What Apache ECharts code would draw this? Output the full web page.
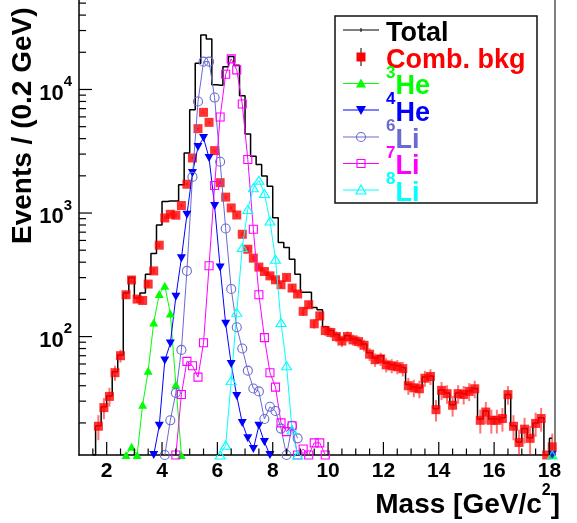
<!DOCTYPE html>
<html>
<head>
<meta charset="utf-8">
<script src="https://cdn.jsdelivr.net/npm/echarts@6/dist/echarts.min.js"></script>
<style>
  html, body { margin: 0; padding: 0; background: #fff; }
  #chart { width: 577px; height: 523px; }
</style>
</head>
<body>
<div id="chart"></div>
<script>
// ---- axis ranges ----
const MASS_MIN = 1.0, MASS_MAX = 18.2;
const COUNT_MIN = 11, COUNT_MAX = 53000;

// ---- tick positions ----
const xMajorTicks = [2, 4, 6, 8, 10, 12, 14, 16, 18];
const xMinorTicks = [1.5, 2.5, 3, 3.5, 4.5, 5, 5.5, 6.5, 7, 7.5, 8.5, 9, 9.5, 10.5, 11, 11.5,
                     12.5, 13, 13.5, 14.5, 15, 15.5, 16.5, 17, 17.5];
const yMajorTicks = [100, 1000, 10000];
const yMinorTicks = [20, 30, 40, 50, 60, 70, 80, 90,
                     200, 300, 400, 500, 600, 700, 800, 900,
                     2000, 3000, 4000, 5000, 6000, 7000, 8000, 9000,
                     20000, 30000, 40000, 50000];

// ---- Total (histogram, 0.2 GeV bins) ----
const totalMass = [1.5, 1.7, 1.9, 2.1, 2.3, 2.5, 2.7, 2.9, 3.1, 3.3, 3.5, 3.7, 3.9, 4.1, 4.3, 4.5, 4.7, 4.9,
  5.1, 5.3, 5.5, 5.7, 5.9, 6.1, 6.3, 6.5, 6.7, 6.9, 7.1, 7.3, 7.5, 7.7, 7.9, 8.1, 8.3, 8.5, 8.7, 8.9,
  9.1, 9.3, 9.5, 9.7, 9.9, 10.1, 10.3, 10.5, 10.7, 10.9, 11.1, 11.3, 11.5, 11.7, 11.9, 12.1, 12.3, 12.5,
  12.7, 12.9, 13.1, 13.3, 13.5, 13.7, 13.9, 14.1, 14.3, 14.5, 14.7, 14.9, 15.1, 15.3, 15.5, 15.7, 15.9,
  16.1, 16.3, 16.5, 16.7, 16.9, 17.1, 17.3, 17.5, 17.7, 17.9, 18.1];
const totalCounts = [11, 19, 27, 33, 52, 71, 225, 300, 205, 225, 320, 470, 800, 1240, 1250, 1250, 1690, 3060,
  6850, 16300, 27600, 25600, 10900, 10800, 15300, 18500, 15700, 8900, 4360, 2880, 2470, 1990, 1650, 916, 576, 525, 423, 320,
  228, 228, 172, 165, 120, 112, 104, 95, 102, 96, 93, 87, 74, 67, 70, 61, 59, 58,
  56, 41, 39, 38.5, 47, 48, 26, 37, 35, 28, 35, 34.5, 36.5, 38, 21.5, 25, 21.5,
  21.5, 22, 34, 19, 14, 18, 15.2, 20, 22, 11, 15];

// ---- Combinatorial background (points with errors) ----
const bkgMass = [1.7, 1.9, 2.1, 2.3, 2.5, 2.7, 2.9, 3.1, 3.3, 3.5, 3.7, 3.9, 4.1, 4.3, 4.5, 4.7, 4.9,
  5.1, 5.3, 5.5, 5.7, 5.9, 6.1, 6.3, 6.5, 6.7, 6.9, 7.1, 7.3, 7.5, 7.7, 7.9, 8.1, 8.3, 8.5, 8.7, 8.9,
  9.1, 9.3, 9.5, 9.7, 9.9, 10.1, 10.3, 10.5, 10.7, 10.9, 11.1, 11.3, 11.5, 11.7, 11.9, 12.1, 12.3, 12.5,
  12.7, 12.9, 13.1, 13.3, 13.5, 13.7, 13.9, 14.1, 14.3, 14.5, 14.7, 14.9, 15.1, 15.3, 15.5, 15.7, 15.9,
  16.1, 16.3, 16.5, 16.7, 16.9, 17.1, 17.3, 17.5, 17.7, 17.9, 18.1];
const bkgCounts = [18.8, 26.6, 32.8, 51, 70, 218, 287, 201, 196, 266, 340, 549, 912, 977, 960, 1150, 1710,
  2790, 4820, 6530, 5420, 3200, 1760, 1345, 1100, 964, 673, 509, 431, 365, 336, 310, 288, 263, 301, 247, 221,
  160, 181, 127, 147, 112, 108, 100, 92, 100, 94, 91, 85, 72, 65, 66, 59, 58, 57,
  55, 40, 38.5, 37.8, 46, 47.5, 25.6, 36.7, 34.5, 27.8, 34.5, 34, 36, 37.8, 21, 24.5, 21,
  21, 21.7, 33.9, 18.8, 13.9, 17.8, 15, 19.8, 21.7, 11, 12.8];
const bkgErrors = [4.3, 5.2, 5.7, 7.1, 8.4, 15, 17, 14, 14, 16, 18, 23, 30, 31, 31, 34, 41,
  53, 69, 81, 74, 57, 42, 37, 33, 31, 26, 23, 21, 19, 18, 18, 17, 16, 17, 16, 15,
  13, 13, 11, 12, 11, 10, 10, 9.6, 10, 9.7, 9.5, 9.2, 8.5, 8.1, 8.1, 7.7, 7.6, 7.5,
  7.4, 6.3, 6.2, 6.1, 6.8, 6.9, 5.1, 6.1, 5.9, 5.3, 5.9, 5.8, 6, 6.1, 4.6, 5, 4.6,
  4.6, 4.7, 5.8, 4.3, 3.7, 4.2, 3.9, 4.4, 4.7, 0, 3.6];

// ---- isotope components ----
const he3Mass = [2.7, 2.9, 3.1, 3.3, 3.5, 3.7, 3.9, 4.1, 4.3, 4.5, 4.7];
const he3Counts = [11, 12.8, 11, 28, 53, 130, 221, 258, 154, 41, 11];

const he4Mass = [3.7, 3.9, 4.1, 4.3, 4.5, 4.7, 4.9, 5.1, 5.3, 5.5, 5.7, 5.9, 6.1, 6.3, 6.5, 6.7, 6.9,
  7.1, 7.3, 7.5, 7.7, 7.9];
const he4Counts = [11, 19, 64, 88, 210, 431, 970, 2110, 3430, 4050, 2790, 1140, 362, 127, 60, 33, 20,
  15, 12.3, 19, 14, 11];

const li6Mass = [4.1, 4.3, 4.5, 4.7, 4.9, 5.1, 5.3, 5.5, 5.7, 5.9, 6.1, 6.3, 6.5, 6.7, 6.9, 7.1, 7.3,
  7.5, 7.7, 7.9, 8.1, 8.3, 8.5, 8.7, 8.9];
const li6Counts = [11, 21, 35, 78, 340, 1960, 8000, 16800, 16800, 8600, 2600, 750, 243, 119, 80, 53, 38,
  36, 21.5, 27, 25, 18, 11, 19, 15];

const li7Mass = [4.5, 4.7, 4.9, 5.1, 5.3, 5.5, 5.7, 5.9, 6.1, 6.3, 6.5, 6.7, 6.9, 7.1, 7.3, 7.5, 7.7,
  7.9, 8.1, 8.3, 8.5, 8.7, 8.9, 9.1, 9.3, 9.5, 9.7, 9.9];
const li7Counts = [11, 34, 63, 58, 47, 89, 374, 1670, 5980, 13300, 17700, 14400, 7620, 2710, 740, 218, 98,
  51, 39, 20, 17, 19, 11, 12.3, 11, 13.8, 13.8, 11];

const li8Mass = [6.1, 6.3, 6.5, 6.7, 6.9, 7.1, 7.3, 7.5, 7.7, 7.9, 8.1, 8.3, 8.5, 8.7, 8.9];
const li8Counts = [11, 13.2, 44, 157, 525, 1070, 1600, 1840, 1440, 861, 423, 130, 58, 17.5, 11];

// last-bin entries sitting on the lower edge
const lastBinMass = [18.1];
const lastBinCounts = [11];

// ---- styling ----
const FONT = '"Liberation Sans", Arial, Helvetica, sans-serif';
const C = {
  total: '#000000', bkg: '#ff0000', bkgErr: 'rgba(255,0,0,0.55)',
  he3: '#00ff00', he4: '#0000ff', li6: '#6a6ad2', li7: '#ff00ff', li8: '#00ffff'
};

const pairs = (xs, ys) => xs.map((x, i) => [x, ys[i]]);

// tick marks drawn inside the frame
const tickData = [];
xMajorTicks.forEach(v => tickData.push([v, COUNT_MIN, 0, 13]));
xMinorTicks.forEach(v => tickData.push([v, COUNT_MIN, 0, 6.5]));
yMajorTicks.forEach(v => tickData.push([MASS_MIN, v, 1, 13]));
yMinorTicks.forEach(v => tickData.push([MASS_MIN, v, 1, 7]));

function renderTick(params, api) {
  const p = api.coord([api.value(0), api.value(1)]);
  const len = api.value(3);
  const onX = api.value(2) === 0;
  return {
    type: 'line',
    shape: onX ? { x1: p[0], y1: p[1], x2: p[0], y2: p[1] - len }
               : { x1: p[0], y1: p[1], x2: p[0] + len, y2: p[1] },
    style: { stroke: '#000', lineWidth: 1.2 }
  };
}

const errData = bkgMass.map((m, i) => [m, Math.max(bkgCounts[i] - bkgErrors[i], 1), bkgCounts[i] + bkgErrors[i]]);
function renderErr(params, api) {
  const a = api.coord([api.value(0), api.value(2)]);
  const b = api.coord([api.value(0), api.value(1)]);
  return { type: 'line', shape: { x1: a[0], y1: a[1], x2: b[0], y2: b[1] },
           style: { stroke: C.bkgErr, lineWidth: 2 } };
}

function isoSeries(name, xs, ys, color, symbol, size, filled, rotate, asScatter) {
  return {
    name, type: asScatter ? 'scatter' : 'line', data: pairs(xs, ys), z: 5,
    symbol, symbolSize: size, symbolRotate: rotate || 0, showSymbol: true,
    lineStyle: { color, width: 1 },
    itemStyle: filled ? { color, borderWidth: 0 }
                      : { color: 'rgba(0,0,0,0)', borderColor: color, borderWidth: 1.1 },
    emphasis: { disabled: true }, silent: true, clip: true
  };
}

// legend drawn as a framed box
const LX = 335, LY = 16, LW = 202, LH = 187;
const legendRows = [
  { text: '{b|Total}', color: C.total, mark: 'hist', y: 30 },
  { text: '{b|Comb. bkg}', color: C.bkg, mark: 'bkg', y: 57 },
  { text: '{s|3}{b|He}', color: C.he3, mark: 'triUp', filled: true, y: 83.5 },
  { text: '{s|4}{b|He}', color: C.he4, mark: 'triDown', filled: true, y: 110 },
  { text: '{s|6}{b|Li}', color: C.li6, mark: 'circle', y: 137 },
  { text: '{s|7}{b|Li}', color: C.li7, mark: 'square', y: 163.5 },
  { text: '{s|8}{b|Li}', color: C.li8, mark: 'triUp', y: 190 }
];
const legendEls = [{
  type: 'rect', shape: { x: LX, y: LY, width: LW, height: LH },
  style: { fill: '#fff', stroke: '#111', lineWidth: 1.5 }
}];
legendRows.forEach(r => {
  const cx = 361, x1 = 343, x2 = 379;
  if (r.mark !== 'bkg') {
    legendEls.push({ type: 'line', shape: { x1, y1: r.y, x2, y2: r.y }, style: { stroke: r.color, lineWidth: 1.2 } });
  }
  const mstyle = r.filled ? { fill: r.color } : { fill: 'none', stroke: r.color, lineWidth: 1.1 };
  if (r.mark === 'hist') {
    legendEls.push({ type: 'line', shape: { x1: cx, y1: r.y - 2, x2: cx, y2: r.y + 2 }, style: { stroke: '#000', lineWidth: 1 } });
  } else if (r.mark === 'bkg') {
    legendEls.push({ type: 'line', shape: { x1: cx, y1: r.y - 9, x2: cx, y2: r.y + 9 }, style: { stroke: '#000', lineWidth: 1 } });
    legendEls.push({ type: 'rect', shape: { x: cx - 4.5, y: r.y - 4.5, width: 9, height: 9 }, style: { fill: C.bkg } });
  } else if (r.mark === 'triUp') {
    legendEls.push({ type: 'polygon', shape: { points: [[cx, r.y - 5], [cx + 5, r.y + 4], [cx - 5, r.y + 4]] }, style: mstyle });
  } else if (r.mark === 'triDown') {
    legendEls.push({ type: 'polygon', shape: { points: [[cx, r.y + 5], [cx + 5, r.y - 4], [cx - 5, r.y - 4]] }, style: mstyle });
  } else if (r.mark === 'circle') {
    legendEls.push({ type: 'circle', shape: { cx, cy: r.y, r: 4.5 }, style: mstyle });
  } else if (r.mark === 'square') {
    legendEls.push({ type: 'rect', shape: { x: cx - 4, y: r.y - 4, width: 8, height: 8 }, style: mstyle });
  }
  legendEls.push({
    type: 'text', x: 386, y: r.y - 1,
    style: {
      text: r.text, fill: r.color, align: 'left', verticalAlign: 'middle',
      rich: {
        b: { fontFamily: FONT, fontWeight: 'bold', fontSize: 27, lineHeight: 36, fill: r.color, verticalAlign: 'bottom' },
        s: { fontFamily: FONT, fontWeight: 'bold', fontSize: 17, lineHeight: 17, fill: r.color, verticalAlign: 'top' }
      }
    }
  });
});

const chart = echarts.init(document.getElementById('chart'), null, { renderer: 'canvas' });
chart.setOption({
  animation: false,
  backgroundColor: '#ffffff',
  grid: { left: 79, right: 22, top: -2, bottom: 68, containLabel: false },
  xAxis: {
    type: 'value', min: MASS_MIN, max: MASS_MAX, interval: 1,
    axisLine: { show: true, onZero: false, lineStyle: { color: '#000', width: 1.5 } },
    axisTick: { show: false }, splitLine: { show: false },
    axisLabel: {
      show: true, margin: 6, color: '#000', fontFamily: FONT, fontWeight: 'bold', fontSize: 21,
      showMinLabel: false, showMaxLabel: false, interval: 0,
      formatter: v => (xMajorTicks.indexOf(Math.round(v * 10) / 10) >= 0 ? String(Math.round(v)) : '')
    }
  },
  yAxis: [{
    type: 'log', logBase: 10, min: COUNT_MIN, max: COUNT_MAX,
    axisLine: { show: true, lineStyle: { color: '#000', width: 1.5 } },
    axisTick: { show: false }, splitLine: { show: false }, minorTick: { show: false },
    axisLabel: {
      show: true, margin: 7, color: '#000', showMinLabel: false, showMaxLabel: false,
      formatter: v => {
        const e = Math.log10(v), r = Math.round(e);
        return (Math.abs(e - r) < 1e-6 && yMajorTicks.indexOf(Math.pow(10, r)) >= 0) ? '{b|10}{s|' + r + '}' : '';
      },
      rich: {
        b: { fontFamily: FONT, fontWeight: 'bold', fontSize: 22, lineHeight: 30, verticalAlign: 'bottom', color: '#000' },
        s: { fontFamily: FONT, fontWeight: 'bold', fontSize: 15, lineHeight: 15, verticalAlign: 'top', color: '#000' }
      }
    }
  }, {
    type: 'log', logBase: 10, min: COUNT_MIN, max: COUNT_MAX, position: 'right',
    axisLine: { show: true, lineStyle: { color: '#555', width: 1.5 } },
    axisTick: { show: false }, axisLabel: { show: false }, splitLine: { show: false }
  }],
  graphic: [
    {
      type: 'text', x: 560, y: 501,
      style: {
        text: '{b|Mass [GeV/c}{s|2}{b|]}', align: 'right', verticalAlign: 'middle',
        rich: {
          b: { fontFamily: FONT, fontWeight: 'bold', fontSize: 28, lineHeight: 36, verticalAlign: 'bottom', fill: '#000' },
          s: { fontFamily: FONT, fontWeight: 'bold', fontSize: 16, lineHeight: 16, verticalAlign: 'top', fill: '#000' }
        }
      }
    },
    {
      type: 'text', x: 23, y: 244, rotation: Math.PI / 2,
      style: { text: 'Events / (0.2 GeV)', align: 'left', verticalAlign: 'middle',
               fontFamily: FONT, fontWeight: 'bold', fontSize: 28, fill: '#000' }
    },
    { type: 'group', children: legendEls, z: 100 }
  ],
  series: [
    {
      name: 'Total', type: 'line', data: pairs(totalMass, totalCounts), step: 'middle',
      symbol: 'none', lineStyle: { color: C.total, width: 1.5 }, z: 2, silent: true, clip: true
    },
    {
      name: 'Comb. bkg errors', type: 'custom', renderItem: renderErr, data: errData,
      encode: { x: 0, y: [1, 2] }, z: 3, silent: true, clip: true
    },
    {
      name: 'Comb. bkg', type: 'scatter', data: pairs(bkgMass, bkgCounts), symbol: 'rect', symbolSize: 9,
      itemStyle: { color: C.bkg }, z: 4, silent: true, clip: true
    },
    isoSeries('3He', he3Mass, he3Counts, C.he3, 'triangle', [9, 8], true),
    isoSeries('4He', he4Mass, he4Counts, C.he4, 'triangle', [9, 8], true, 180),
    isoSeries('6Li', li6Mass, li6Counts, C.li6, 'circle', 9, false),
    isoSeries('7Li', li7Mass, li7Counts, C.li7, 'rect', 8, false),
    isoSeries('8Li', li8Mass, li8Counts, C.li8, 'triangle', [10, 8], false),
    isoSeries('3He last bin', lastBinMass, lastBinCounts, C.he3, 'triangle', [9, 8], true, 0, true),
    isoSeries('4He last bin', lastBinMass, lastBinCounts, C.he4, 'triangle', [9, 8], true, 180, true),
    isoSeries('8Li last bin', lastBinMass, lastBinCounts, C.li8, 'triangle', [10, 8], false, 0, true),
    {
      name: 'ticks', type: 'custom', renderItem: renderTick, data: tickData,
      encode: { x: 0, y: 1 }, z: 10, silent: true, clip: false
    }
  ]
});
</script>
</body>
</html>
